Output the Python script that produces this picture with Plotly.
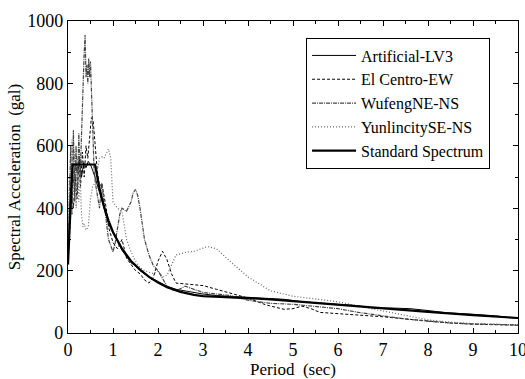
import plotly.graph_objects as go

# ---------------- data ----------------
art_T = [0, 0.04, 0.08, 0.12, 0.16, 0.2, 0.25, 0.3, 0.35, 0.4, 0.45, 0.5, 0.55, 0.6, 0.7, 0.8, 0.9, 1.0, 1.1, 1.2, 1.3, 1.4, 1.5, 1.6, 1.8, 2.0, 2.2, 2.4, 2.6, 2.8, 3.0, 3.3, 3.6, 4.0, 4.4, 4.8, 5.2, 5.6, 6.0, 6.4, 6.8, 7.2, 7.6, 8.0, 8.4, 9.0, 9.5, 10]
art_v = [220, 420, 510, 480, 540, 520, 555, 500, 545, 530, 550, 540, 520, 500, 450, 400, 350, 320, 290, 265, 245, 225, 215, 200, 180, 165, 150, 140, 135, 130, 125, 120, 118, 115, 112, 108, 100, 97, 92, 88, 80, 80, 78, 72, 65, 60, 55, 47]

elc_T = [0, 0.04, 0.08, 0.12, 0.16, 0.2, 0.24, 0.28, 0.32, 0.36, 0.4, 0.44, 0.48, 0.52, 0.56, 0.6, 0.65, 0.7, 0.75, 0.8, 0.85, 0.9, 1.0, 1.1, 1.2, 1.3, 1.4, 1.5, 1.6, 1.7, 1.8, 1.9, 2.0, 2.1, 2.2, 2.3, 2.4, 2.6, 2.8, 3.0, 3.3, 3.6, 4.0, 4.4, 4.8, 5.0, 5.2, 5.4, 5.6, 6.0, 6.5, 7.0, 7.5, 8.0, 8.5, 9.0, 9.5, 10]
elc_v = [220, 350, 450, 400, 500, 430, 540, 470, 580, 500, 600, 560, 640, 690, 680, 600, 520, 470, 480, 440, 400, 340, 290, 270, 300, 240, 220, 200, 190, 170, 160, 180, 230, 262, 235, 190, 160, 158, 155, 152, 140, 128, 112, 90, 76, 78, 86, 78, 66, 62, 58, 52, 45, 38, 32, 28, 26, 25]

wuf_T = [0, 0.03, 0.06, 0.09, 0.12, 0.15, 0.18, 0.21, 0.24, 0.27, 0.3, 0.33, 0.36, 0.38, 0.4, 0.42, 0.44, 0.46, 0.48, 0.5, 0.52, 0.55, 0.58, 0.62, 0.66, 0.7, 0.75, 0.8, 0.85, 0.9, 0.95, 1.0, 1.05, 1.1, 1.15, 1.2, 1.3, 1.4, 1.45, 1.5, 1.55, 1.6, 1.7, 1.8, 1.9, 2.0, 2.1, 2.2, 2.3, 2.4, 2.6, 2.8, 3.0, 3.3, 3.6, 4.0, 4.5, 5.0, 5.5, 6.0, 6.5, 7.0, 7.5, 8.0, 8.5, 9.0, 9.5, 10]
wuf_v = [230, 420, 600, 380, 650, 420, 600, 450, 640, 500, 660, 750, 900, 955, 820, 860, 800, 880, 820, 870, 780, 640, 520, 470, 430, 400, 480, 420, 370, 300, 280, 260, 290, 330, 380, 400, 390, 420, 450, 460, 440, 400, 300, 250, 215, 200, 175, 150, 140, 135, 150, 140, 130, 125, 120, 105, 95, 92, 85, 78, 65, 55, 45, 38, 32, 29, 27, 26]

yun_T = [0, 0.03, 0.06, 0.09, 0.12, 0.15, 0.18, 0.21, 0.24, 0.27, 0.3, 0.33, 0.36, 0.4, 0.45, 0.5, 0.55, 0.6, 0.65, 0.7, 0.75, 0.8, 0.85, 0.9, 0.95, 1.0, 1.1, 1.2, 1.3, 1.4, 1.5, 1.6, 1.7, 1.8, 1.9, 2.0, 2.1, 2.2, 2.3, 2.4, 2.6, 2.8, 3.0, 3.1, 3.3, 3.6, 4.0, 4.5, 5.0, 5.5, 6.0, 6.5, 7.0, 7.5, 8.0, 8.5, 9.0, 9.5, 10]
yun_v = [225, 500, 380, 620, 450, 580, 400, 560, 420, 500, 380, 340, 350, 330, 340, 430, 470, 480, 520, 560, 565, 560, 575, 590, 560, 420, 400, 390, 300, 260, 230, 210, 200, 195, 190, 200, 180, 185, 220, 250, 258, 262, 272, 277, 270, 230, 180, 135, 118, 108, 100, 85, 70, 55, 42, 35, 30, 28, 25]

std_T = [0, 0.1, 0.6, 0.7, 0.8, 0.9, 1.0, 1.2, 1.4, 1.6, 1.8, 2.0, 2.2, 2.5, 2.8, 3.0, 3.5, 4.0, 4.5, 5.0, 5.5, 6.0, 6.5, 7.0, 8.0, 9.0, 10]
std_v = [220, 540, 540, 463, 405, 360, 324, 270, 231, 203, 180, 162, 147, 132, 122, 118, 115, 112, 108, 102, 96, 90, 85, 80, 68, 57, 48]

x_ticks = [0, 1, 2, 3, 4, 5, 6, 7, 8, 9, 10]
y_ticks = [0, 200, 400, 600, 800, 1000]

FONT = "Liberation Serif, Times New Roman, serif"

fig = go.Figure()
fig.add_trace(go.Scatter(x=art_T, y=art_v, mode="lines", name="Artificial-LV3",
                         line=dict(color="black", width=1)))
fig.add_trace(go.Scatter(x=elc_T, y=elc_v, mode="lines", name="El Centro-EW",
                         line=dict(color="black", width=1, dash="3px,2px")))
fig.add_trace(go.Scatter(x=wuf_T, y=wuf_v, mode="lines", name="WufengNE-NS",
                         line=dict(color="#444444", width=1.2, dash="4px,1px,1px,1px")))
fig.add_trace(go.Scatter(x=yun_T, y=yun_v, mode="lines", name="YunlincitySE-NS",
                         line=dict(color="#666666", width=1.2, dash="1px,2px")))
fig.add_trace(go.Scatter(x=std_T, y=std_v, mode="lines", name="Standard Spectrum",
                         line=dict(color="black", width=2.2)))

axis_common = dict(
    showline=True, linecolor="black", linewidth=1.3, mirror="ticks",
    ticks="inside", ticklen=5, tickwidth=1, tickcolor="black",
    showgrid=False, zeroline=False, ticklabeloverflow="allow",
    tickfont=dict(family=FONT, size=18, color="black"),
)

fig.update_xaxes(range=[0, 10], tickvals=x_ticks, ticktext=[str(t) for t in x_ticks],
                 minor=dict(ticks="inside", ticklen=3, dtick=0.5, tickcolor="black"),
                 title=dict(text="Period  (sec)", font=dict(family=FONT, size=17, color="black"),
                            standoff=0),
                 **axis_common)
fig.update_yaxes(range=[0, 1000], tickvals=y_ticks, ticktext=[str(t) for t in y_ticks],
                 minor=dict(ticks="inside", ticklen=3, dtick=100, tickcolor="black"),
                 title=dict(text="Spectral Acceleration  (gal)",
                            font=dict(family=FONT, size=17, color="black"), standoff=2),
                 **axis_common)

fig.update_layout(
    width=525, height=379,
    margin=dict(l=68, r=7, t=21, b=46, autoexpand=False),
    paper_bgcolor="white", plot_bgcolor="white",
    font=dict(family=FONT, color="black"),
    legend=dict(x=0.529, y=0.947, xanchor="left", yanchor="top",
                bordercolor="black", borderwidth=1, bgcolor="white",
                font=dict(family=FONT, size=16, color="black"),
                tracegroupgap=0, itemwidth=44),
    showlegend=True,
)

fig.write_html("out.html")
